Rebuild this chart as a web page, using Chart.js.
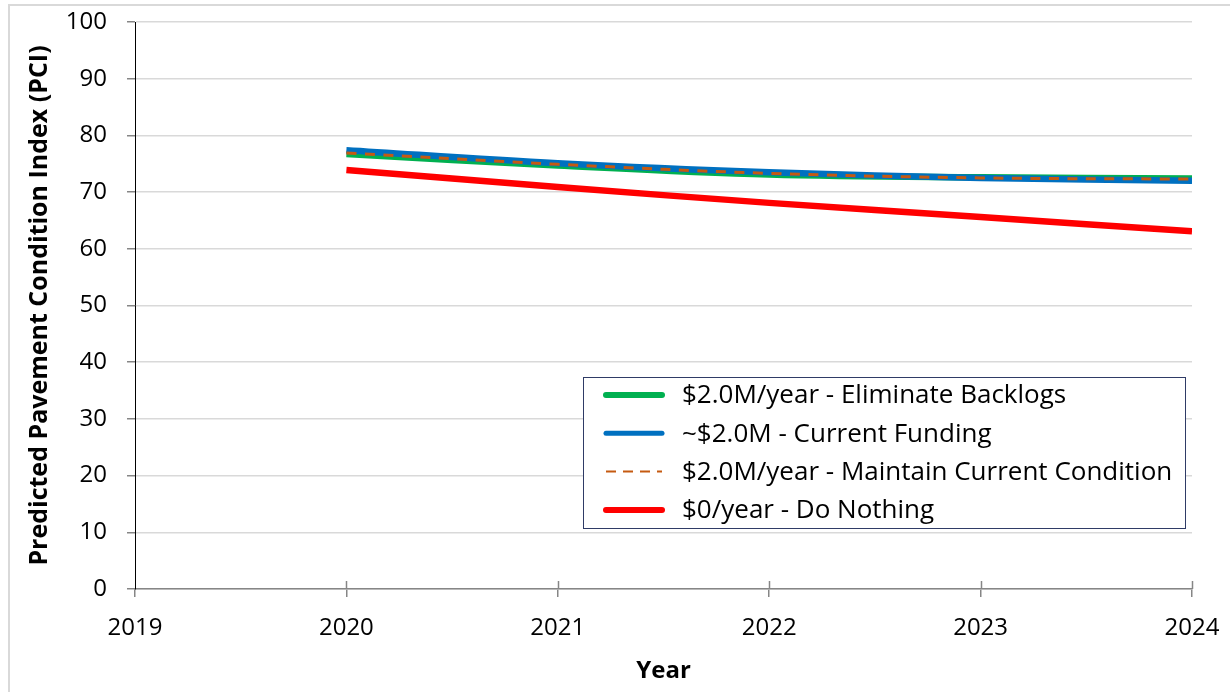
<!DOCTYPE html>
<html>
<head>
<meta charset="utf-8">
<script src="https://cdn.jsdelivr.net/npm/chart.js@4"></script>
<style>
  html, body { margin: 0; padding: 0; background: #fff; }
  #wrap { position: relative; width: 1230px; height: 692px; }
</style>
</head>
<body>
<div id="wrap"><canvas id="pciChart" width="1230" height="692"></canvas></div>
<script>
// years on the x axis
const years = [2020, 2021, 2022, 2023, 2024];

// predicted PCI for each funding scenario
const eliminateBacklogs = [76.7, 74.7, 73.1, 72.6, 72.4];
const currentFunding = [77.4, 75.1, 73.5, 72.5, 72.0];
const maintainCondition = [76.9, 74.9, 73.3, 72.5, 72.3];
const doNothing = [73.9, 70.9, 68.1, 65.6, 63.1];

const seriesLabels = [
  '$2.0M/year - Eliminate Backlogs',
  '~$2.0M - Current Funding',
  '$2.0M/year - Maintain Current Condition',
  '$0/year - Do Nothing'
];

const yTicks = [0, 10, 20, 30, 40, 50, 60, 70, 80, 90, 100];

const toPoints = vals => vals.map((v, i) => ({ x: years[i], y: v }));

const FONT = '"Open Sans", "Liberation Sans", sans-serif';

// light frame around the whole chart
const framePlugin = {
  id: 'frame',
  beforeDraw(chart) {
    const ctx = chart.ctx;
    ctx.save();
    ctx.fillStyle = '#fff';
    ctx.fillRect(0, 0, chart.width, chart.height);
    ctx.strokeStyle = '#d9d9d9';
    ctx.lineWidth = 2;
    ctx.strokeRect(9, 5, chart.width - 8, chart.height - 4);
    ctx.restore();
  }
};

// x tick marks cross the axis, so add the part above it
const crossTicks = {
  id: 'crossTicks',
  afterDraw(chart) {
    const x = chart.scales.x;
    const ctx = chart.ctx;
    const y0 = chart.chartArea.bottom;
    ctx.save();
    ctx.strokeStyle = '#868686';
    ctx.lineWidth = 1.5;
    ctx.beginPath();
    years.forEach(yr => {
      const px = Math.round(x.getPixelForValue(yr)) + 0.5;
      ctx.moveTo(px, y0 - 8);
      ctx.lineTo(px, y0);
    });
    ctx.stroke();
    ctx.restore();
  }
};

// boxed legend sitting inside the plot area
const boxLegend = {
  id: 'boxLegend',
  afterDraw(chart) {
    const ctx = chart.ctx;
    const box = { x: 583.5, y: 377.5, w: 602, h: 151 };
    ctx.save();
    ctx.fillStyle = '#fff';
    ctx.fillRect(box.x, box.y, box.w, box.h);
    ctx.strokeStyle = '#2f3b66';
    ctx.lineWidth = 1;
    ctx.strokeRect(box.x, box.y, box.w, box.h);
    ctx.font = '26px ' + FONT;
    ctx.textBaseline = 'middle';
    ctx.fillStyle = '#000';
    chart.data.datasets.forEach((ds, i) => {
      const cy = 395 + i * 38.3;
      ctx.save();
      ctx.strokeStyle = ds.borderColor;
      ctx.lineWidth = ds.legendWidth;
      ctx.lineCap = ds.borderDash ? 'butt' : 'round';
      ctx.setLineDash(ds.borderDash ? [10, 7] : []);
      ctx.beginPath();
      ctx.moveTo(606, cy);
      ctx.lineTo(662, cy);
      ctx.stroke();
      ctx.restore();
      ctx.fillText(ds.label, 682, cy + 1);
    });
    ctx.restore();
  }
};

new Chart(document.getElementById('pciChart'), {
  type: 'line',
  data: {
    datasets: [
      {
        label: seriesLabels[0],
        data: toPoints(eliminateBacklogs),
        borderColor: '#00b050',
        borderWidth: 6.5,
        legendWidth: 6,
        order: 4
      },
      {
        label: seriesLabels[1],
        data: toPoints(currentFunding),
        borderColor: '#0070c0',
        borderWidth: 6.5,
        legendWidth: 5,
        order: 3
      },
      {
        label: seriesLabels[2],
        data: toPoints(maintainCondition),
        borderColor: '#c55a11',
        borderWidth: 3,
        borderDash: [10, 8.5],
        legendWidth: 2,
        order: 1
      },
      {
        label: seriesLabels[3],
        data: toPoints(doNothing),
        borderColor: '#ff0000',
        borderWidth: 6.5,
        legendWidth: 6,
        order: 2
      }
    ]
  },
  options: {
    responsive: false,
    animation: false,
    layout: { padding: { left: 10, right: 38, top: 22, bottom: 0 } },
    elements: {
      point: { radius: 0 },
      line: { tension: 0.35, fill: false, borderCapStyle: 'butt' }
    },
    plugins: {
      legend: { display: false },
      tooltip: { enabled: false }
    },
    scales: {
      x: {
        type: 'linear',
        min: 2019,
        max: 2024,
        afterFit(scale) {
          scale.height = 103;
          // labels may hang past the plot edges
          scale.paddingLeft = 0;
          scale.paddingRight = 0;
        },
        afterBuildTicks(scale) {
          scale.ticks = [2019].concat(years).map(v => ({ value: v }));
        },
        border: { color: '#868686', width: 1.5 },
        grid: { drawOnChartArea: false, color: '#868686', lineWidth: 1.5, tickLength: 8 },
        ticks: {
          color: '#000',
          padding: 17,
          maxRotation: 0,
          font: { family: FONT, size: 24 },
          callback: v => String(v)
        },
        title: {
          display: true,
          text: 'Year',
          color: '#000',
          padding: { top: 0, bottom: 6 },
          font: { family: FONT, size: 24, weight: 'bold' }
        }
      },
      y: {
        min: 0,
        max: 100,
        afterFit(scale) {
          scale.width = 125;
          scale.paddingTop = 0;
          scale.paddingBottom = 0;
        },
        afterBuildTicks(scale) {
          scale.ticks = yTicks.map(v => ({ value: v }));
        },
        border: { color: '#000', width: 1 },
        grid: { color: '#d9d9d9', lineWidth: 1.5, tickLength: 8, tickColor: '#868686' },
        ticks: {
          color: '#000',
          padding: 20,
          font: { family: FONT, size: 24 }
        },
        title: {
          display: true,
          text: 'Predicted Pavement Condition Index (PCI)',
          color: '#000',
          padding: { top: 15, bottom: 0 },
          font: { family: FONT, size: 25, weight: 'bold' }
        }
      }
    }
  },
  plugins: [framePlugin, crossTicks, boxLegend]
});
</script>
</body>
</html>
